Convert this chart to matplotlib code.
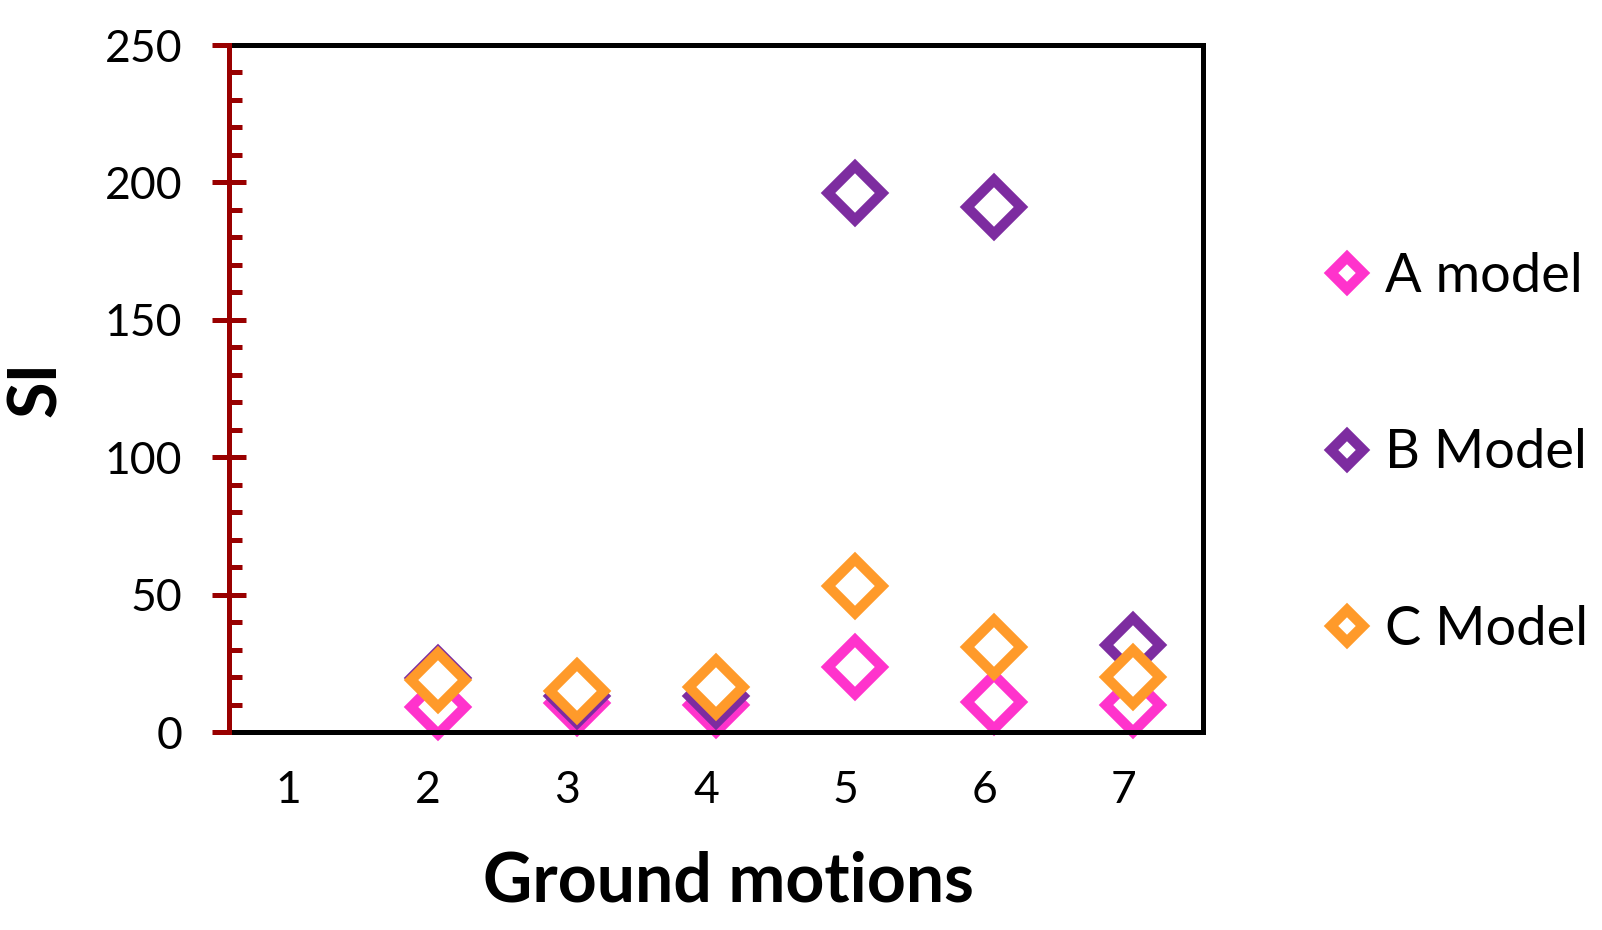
import numpy as np
import matplotlib
matplotlib.use("Agg")
import matplotlib.pyplot as plt
from matplotlib.transforms import ScaledTranslation
from matplotlib.ticker import MultipleLocator

# ---- data ----
categories = [1, 2, 3, 4, 5, 6, 7]
tick_labels = ["1", "2", "3", "4", "5", "6", "7"]
a_model = [np.nan, 9.0, 10.5, 10.0, 23.5, 11.0, 10.0]
b_model = [np.nan, 19.5, 13.0, 13.0, 196.0, 191.0, 31.5]
c_model = [np.nan, 19.0, 15.0, 16.5, 53.0, 31.0, 20.0]
series_names = ["A model", "B Model", "C Model"]
series_colors = ["#FF33CC", "#7D2CA0", "#FF9A2A"]

plt.rcParams['font.family'] = ['Lato', 'DejaVu Sans']

fig = plt.figure(figsize=(16.02, 9.30), dpi=100)
ax = fig.add_axes([229/1602, 1-732/930, (1203-229)/1602, (732-45)/930])

for vals, name, col in zip([a_model, b_model, c_model], series_names, series_colors):
    ax.plot(categories, vals, linestyle='none', marker='D', markersize=27.5,
            markerfacecolor='white', markeredgecolor=col, markeredgewidth=7.4,
            label=name, clip_on=False)

ax.set_xlim(0.5, 7.5)
ax.set_ylim(0, 250)

ax.set_xticks(categories)
ax.set_xticklabels(tick_labels)
ax.yaxis.set_major_locator(MultipleLocator(50))
ax.yaxis.set_minor_locator(MultipleLocator(10))

red = "#990000"
lw = 3.6
for side in ['top', 'right', 'bottom']:
    ax.spines[side].set_linewidth(lw)
    ax.spines[side].set_color('black')
ax.spines['left'].set_linewidth(lw)
ax.spines['left'].set_color(red)
ax.spines['left'].set_zorder(5)

ax.tick_params(axis='x', which='both', length=0, pad=27, labelsize=32)
ax.tick_params(axis='y', which='major', direction='inout', length=24.5, width=lw,
               color=red, pad=21.5, labelsize=32)
ax.tick_params(axis='y', which='minor', direction='in', length=9.4, width=lw, color=red)

offset = ScaledTranslation(-10/100, 0, fig.dpi_scale_trans)
for lab in ax.get_xticklabels():
    lab.set_transform(lab.get_transform() + offset)

ax.set_xlabel("Ground motions", fontsize=49, fontweight='bold')
ax.xaxis.set_label_coords((728-229)/974, (732-882)/687)
ax.xaxis.label.set_verticalalignment('center')

ax.set_ylabel("SI", fontsize=48, fontweight='bold')
ax.yaxis.set_label_coords((37-229)/974, 0.5)
ax.yaxis.label.set_verticalalignment('center')

leg = fig.legend(loc='center left', bbox_to_anchor=(1325/1602, 1-453/930),
                 frameon=False, fontsize=39, markerscale=0.59,
                 handlelength=0.8, handletextpad=0.3, labelspacing=2.36,
                 borderpad=0, borderaxespad=0)

fig.savefig("out.png", dpi=100)
